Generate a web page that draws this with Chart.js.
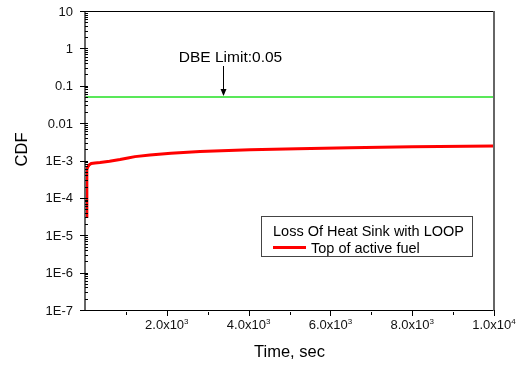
<!DOCTYPE html>
<html>
<head>
<meta charset="utf-8">
<script src="https://cdn.jsdelivr.net/npm/chart.js@4.4.1/dist/chart.umd.min.js"></script>
<style>
    body { margin: 0; background: #fff; }
    canvas { display: block; }
</style>
</head>
<body>
<canvas id="cdfChart" width="522" height="365"></canvas>
<script>
// Data
const timeSec = [45, 45, 65, 100, 150, 245, 367, 600, 856, 1050, 1222, 1589, 2100, 2812, 4034, 5200, 6479, 8000, 10000];
const cdfTopOfFuel = [2.9e-5, 5.6e-4, 6.6e-4, 7.6e-4, 8.3e-4, 8.6e-4, 8.8e-4, 9.5e-4, 1.06e-3, 1.17e-3, 1.27e-3, 1.4e-3, 1.56e-3, 1.74e-3, 1.93e-3, 2.06e-3, 2.2e-3, 2.32e-3, 2.44e-3];
const dbeLimit = 0.05;
const dbeLabel = 'DBE Limit:0.05';
const dbeArrowTime = 3375;

const xMajorTicks = [2000, 4000, 6000, 8000, 10000];
const xMajorMantissa = ['2.0', '4.0', '6.0', '8.0', '1.0'];
const xMajorExponent = ['3', '3', '3', '3', '4'];
const xMinorTicks = [1000, 3000, 5000, 7000, 9000];

const yTickValues = [10, 1, 0.1, 0.01, 1e-3, 1e-4, 1e-5, 1e-6, 1e-7];
const yTickLabels = ['10', '1', '0.1', '0.01', '1E-3', '1E-4', '1E-5', '1E-6', '1E-7'];

const legendTitle = 'Loss Of Heat Sink with LOOP';
const seriesName = 'Top of active fuel';

document.addEventListener("DOMContentLoaded", () => {
    const ctx = document.getElementById('cdfChart').getContext('2d');
    const FONT = '"Liberation Sans", Arial, sans-serif';

    // axes frame, ticks, labels, annotation and legend
    const decorations = {
        id: 'decorations',
        afterDatasetsDraw(chart) {
            const c = chart.ctx;
            const area = chart.chartArea;
            const xs = chart.scales.x;
            const ys = chart.scales.y;
            c.save();

            // frame
            c.lineWidth = 1;
            c.strokeStyle = '#000';
            c.beginPath();
            c.moveTo(area.left, area.top + 0.5);
            c.lineTo(area.right, area.top + 0.5);
            c.moveTo(area.left, area.bottom + 0.5);
            c.lineTo(area.right, area.bottom + 0.5);
            c.stroke();
            c.lineWidth = 2;
            c.strokeStyle = '#666';
            c.beginPath();
            c.moveTo(area.left, area.top);
            c.lineTo(area.left, area.bottom + 1);
            c.moveTo(area.right, area.top);
            c.lineTo(area.right, area.bottom + 1);
            c.stroke();

            // y ticks
            c.lineWidth = 1;
            c.strokeStyle = '#000';
            c.beginPath();
            yTickValues.forEach(v => {
                const py = Math.round(ys.getPixelForValue(v)) + 0.5;
                c.moveTo(area.left - 5, py);
                c.lineTo(area.left + 3, py);
                if (v < 10) {
                    for (let m = 2; m <= 9; m++) {
                        const my = Math.round(ys.getPixelForValue(v * m)) + 0.5;
                        c.moveTo(area.left, my);
                        c.lineTo(area.left + 3, my);
                    }
                }
            });
            // x ticks
            xMajorTicks.forEach(v => {
                const px = Math.round(xs.getPixelForValue(v)) + 0.5;
                c.moveTo(px, area.bottom);
                c.lineTo(px, area.bottom + 6);
            });
            xMinorTicks.forEach(v => {
                const px = Math.round(xs.getPixelForValue(v)) + 0.5;
                c.moveTo(px, area.bottom + 2);
                c.lineTo(px, area.bottom + 5);
            });
            c.stroke();

            // y tick labels
            c.fillStyle = '#111';
            c.font = '13px ' + FONT;
            c.textAlign = 'right';
            c.textBaseline = 'middle';
            yTickValues.forEach((v, i) => {
                c.fillText(yTickLabels[i], area.left - 12, ys.getPixelForValue(v) + 1);
            });

            // x tick labels with superscript exponent
            c.textBaseline = 'alphabetic';
            c.textAlign = 'left';
            xMajorTicks.forEach((v, i) => {
                const base = xMajorMantissa[i] + 'x10';
                c.font = '13px ' + FONT;
                const w1 = c.measureText(base).width;
                c.font = '8px ' + FONT;
                const w2 = c.measureText(xMajorExponent[i]).width;
                const left = xs.getPixelForValue(v) - (w1 + w2) / 2;
                c.font = '13px ' + FONT;
                c.fillText(base, left, 329);
                c.font = '8px ' + FONT;
                c.fillText(xMajorExponent[i], left + w1, 324);
            });

            // axis titles
            c.font = '16.5px ' + FONT;
            c.textAlign = 'center';
            c.fillStyle = '#000';
            c.fillText('Time, sec', (area.left + area.right) / 2, 357);
            c.save();
            c.translate(27, 149.5);
            c.rotate(-Math.PI / 2);
            c.fillText('CDF', 0, 0);
            c.restore();

            // DBE annotation with arrow
            const ax = Math.round(xs.getPixelForValue(dbeArrowTime)) + 0.5;
            const tipY = ys.getPixelForValue(dbeLimit) - 1;
            c.font = '15.5px ' + FONT;
            c.fillText(dbeLabel, ax + 7, 62);
            c.lineWidth = 1;
            c.strokeStyle = '#000';
            c.beginPath();
            c.moveTo(ax, 66);
            c.lineTo(ax, tipY - 4);
            c.stroke();
            c.fillStyle = '#000';
            c.beginPath();
            c.moveTo(ax - 3, tipY - 7);
            c.lineTo(ax + 3, tipY - 7);
            c.lineTo(ax, tipY);
            c.closePath();
            c.fill();

            // legend box
            c.fillStyle = '#fff';
            c.fillRect(261, 216, 211, 40);
            c.strokeStyle = '#444';
            c.lineWidth = 1;
            c.strokeRect(261.5, 216.5, 211, 40);
            c.fillStyle = '#000';
            c.font = '14.5px ' + FONT;
            c.textAlign = 'left';
            c.fillText(legendTitle, 273, 236);
            c.fillText(seriesName, 311, 253);
            c.strokeStyle = '#ff0000';
            c.lineWidth = 3;
            c.beginPath();
            c.moveTo(273, 247.5);
            c.lineTo(306, 247.5);
            c.stroke();

            c.restore();
        }
    };

    new Chart(ctx, {
        type: 'line',
        data: {
            datasets: [{
                label: seriesName,
                data: timeSec.map((t, i) => ({ x: t, y: cdfTopOfFuel[i] })),
                borderColor: '#ff0000',
                borderWidth: 3,
                borderJoinStyle: 'round',
                pointRadius: 0,
                tension: 0
            }, {
                label: 'DBE Limit',
                data: [{ x: 0, y: dbeLimit }, { x: 10000, y: dbeLimit }],
                borderColor: '#22e022',
                borderWidth: 1.5,
                pointRadius: 0
            }]
        },
        options: {
            responsive: false,
            animation: false,
            layout: { padding: { top: 11, right: 28, left: 0, bottom: 0 } },
            plugins: {
                legend: { display: false },
                tooltip: { enabled: false }
            },
            scales: {
                x: {
                    type: 'linear',
                    min: 0,
                    max: 10000,
                    ticks: { display: false },
                    grid: { display: false },
                    border: { display: false },
                    afterFit: s => { s.height = 55; }
                },
                y: {
                    type: 'logarithmic',
                    min: 1e-7,
                    max: 10,
                    ticks: { display: false },
                    grid: { display: false },
                    border: { display: false },
                    afterFit: s => { s.width = 85; }
                }
            }
        },
        plugins: [decorations]
    });
});
</script>
</body>
</html>
